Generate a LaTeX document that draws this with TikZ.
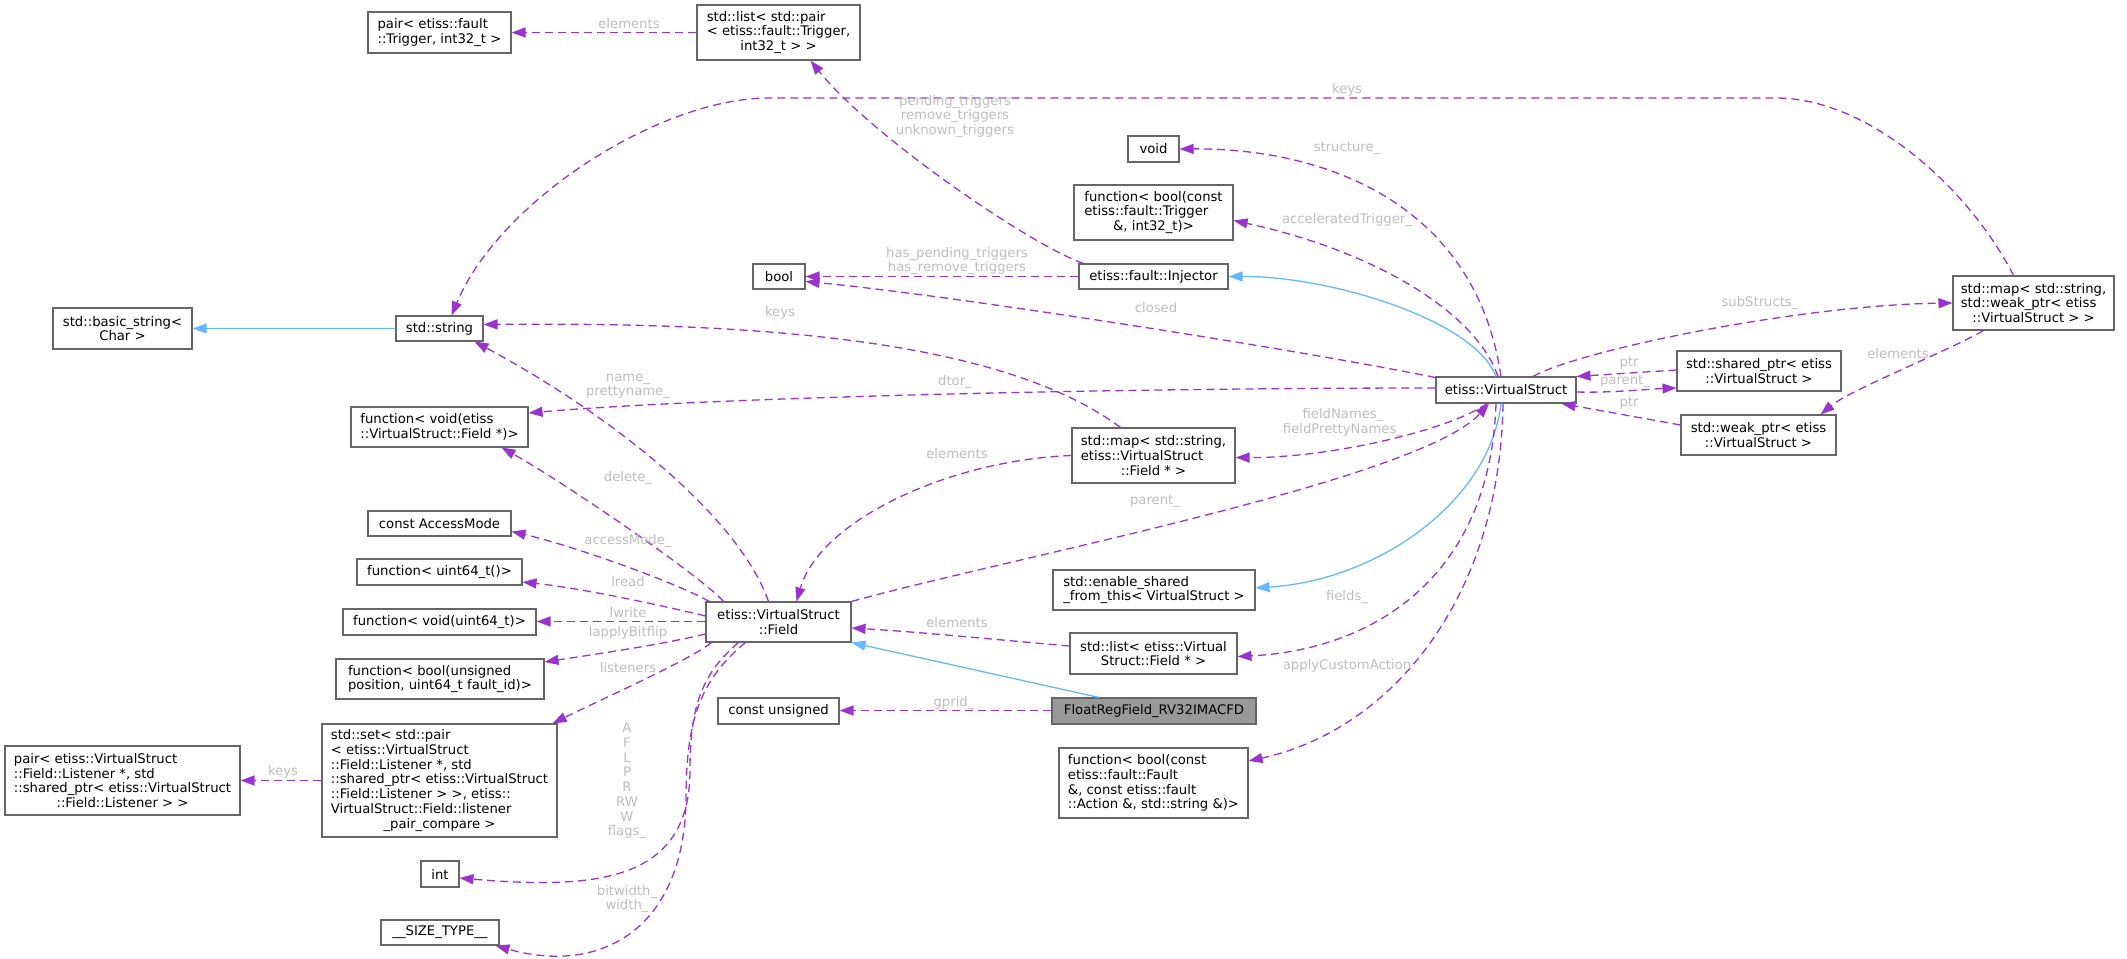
\documentclass[tikz,border=0pt]{standalone}
\usepackage{fontspec}
\setmainfont{DejaVu Sans}
\usepackage{tikz}
\usetikzlibrary{arrows.meta}
\definecolor{usecol}{HTML}{9A32CD}
\definecolor{inhcol}{HTML}{63B8FF}
\definecolor{boxgray}{HTML}{666666}
\definecolor{maingray}{HTML}{999999}
\definecolor{lblgray}{HTML}{BDBDBD}
\newcommand{\ctr}{\null\hfil}

\begin{document}
\begin{tikzpicture}[x=1pt,y=-1pt,
  cls/.style={draw=boxgray, fill=white, line width=1.1pt, inner sep=2pt, align=left, font=\fontsize{13.2pt}{14.7pt}\selectfont},
  lbl/.style={text=lblgray, inner sep=0pt, align=center, font=\fontsize{13.2pt}{14.7pt}\selectfont},
  usedge/.style={usecol, line width=1.3pt, dash pattern=on 8pt off 5pt, -{Triangle[length=14pt,width=10pt]}},
  inhedge/.style={inhcol, line width=1.3pt, -{Triangle[length=14pt,width=10pt]}}]
\useasboundingbox (0,0) rectangle (2127,958);
\node[cls, minimum width=143pt, minimum height=41pt] (pairTrig) at (439.5,32.5) {pair< etiss::fault\\::Trigger, int32\_t >};
\node[cls, minimum width=163pt, minimum height=55pt] (listTrig) at (778.5,32.5) {std::list< std::pair\\< etiss::fault::Trigger,\\\ctr int32\_t > >};
\node[cls, minimum width=139pt, minimum height=41pt] (basicStr) at (122.5,328.5) {std::basic\_string<\\\ctr Char >};
\node[cls, minimum width=87pt, minimum height=25pt] (stdString) at (439.5,328.5) {std::string};
\node[cls, minimum width=51pt, minimum height=26pt] (voidT) at (1153.5,149) {void};
\node[cls, minimum width=159pt, minimum height=55pt] (funcTrig) at (1153.5,212.5) {function< bool(const\\etiss::fault::Trigger\\\ctr \&, int32\_t)>};
\node[cls, minimum width=52pt, minimum height=25pt] (boolT) at (779,276.5) {bool};
\node[cls, minimum width=149pt, minimum height=25pt] (injector) at (1153.5,276.5) {etiss::fault::Injector};
\node[cls, minimum width=161pt, minimum height=54pt] (mapWeak) at (2033.5,303) {std::map< std::string,\\std::weak\_ptr< etiss\\\ctr ::VirtualStruct > >};
\node[cls, minimum width=140pt, minimum height=26pt] (vstruct) at (1506,390) {etiss::VirtualStruct};
\node[cls, minimum width=164pt, minimum height=40pt] (sharedPtr) at (1759,371) {std::shared\_ptr< etiss\\\ctr ::VirtualStruct >};
\node[cls, minimum width=155pt, minimum height=40pt] (weakPtr) at (1758.5,435) {std::weak\_ptr< etiss\\\ctr ::VirtualStruct >};
\node[cls, minimum width=177pt, minimum height=40pt] (funcDel) at (439.5,427) {function< void(etiss\\::VirtualStruct::Field *)>};
\node[cls, minimum width=143pt, minimum height=25pt] (accMode) at (439.5,523.5) {const AccessMode};
\node[cls, minimum width=165pt, minimum height=26pt] (funcRead) at (439.5,572) {function< uint64\_t()>};
\node[cls, minimum width=193pt, minimum height=26pt] (funcWrite) at (439.5,622) {function< void(uint64\_t)>};
\node[cls, minimum width=208pt, minimum height=40pt] (funcFlip) at (440,679) {function< bool(unsigned\\\ctr position, uint64\_t fault\_id)>};
\node[cls, minimum width=235pt, minimum height=113pt] (setL) at (439.5,780.5) {std::set< std::pair\\< etiss::VirtualStruct\\::Field::Listener *, std\\::shared\_ptr< etiss::VirtualStruct\\::Field::Listener > >, etiss::\\VirtualStruct::Field::listener\\\ctr \_pair\_compare >};
\node[cls, minimum width=235pt, minimum height=69pt] (pairL) at (122.5,780.5) {pair< etiss::VirtualStruct\\::Field::Listener *, std\\::shared\_ptr< etiss::VirtualStruct\\\ctr ::Field::Listener > >};
\node[cls, minimum width=38pt, minimum height=26pt] (intT) at (440,874) {int};
\node[cls, minimum width=118pt, minimum height=25pt] (sizeT) at (440,932.5) {\_\_SIZE\_TYPE\_\_};
\node[cls, minimum width=163pt, minimum height=55pt] (mapField) at (1153.5,455.5) {std::map< std::string,\\etiss::VirtualStruct\\\ctr ::Field * >};
\node[cls, minimum width=145pt, minimum height=40pt] (field) at (778.5,622) {etiss::VirtualStruct\\\ctr ::Field};
\node[cls, minimum width=202pt, minimum height=40pt] (enableSh) at (1154,590) {std::enable\_shared\\\ctr \_from\_this< VirtualStruct >};
\node[cls, minimum width=167pt, minimum height=41pt] (listField) at (1153.5,653.5) {std::list< etiss::Virtual\\\ctr Struct::Field * >};
\node[cls, minimum width=121pt, minimum height=26pt] (constU) at (778.5,711) {const unsigned};
\node[cls, fill=maingray, minimum width=204pt, minimum height=26pt] (floatReg) at (1154,711) {FloatRegField\_RV32IMACFD};
\node[cls, minimum width=189pt, minimum height=70pt] (funcAct) at (1153.5,783) {function< bool(const\\etiss::fault::Fault\\\&, const etiss::fault\\\ctr ::Action \&, std::string \&)>};
\draw[usedge] (listTrig.west) -- (pairTrig.east);
\draw[usedge] ([xshift=-70pt]injector.north) .. controls (1030,245) and (870,135) .. ([xshift=32pt]listTrig.south);
\draw[usedge] (injector.west) -- (boolT.east);
\draw[usedge] (vstruct.170) .. controls (1300,350) and (950,295) .. ([yshift=-5pt]boolT.east);
\draw[inhedge] ([xshift=-10pt]vstruct.north) .. controls (1475,320) and (1330,276) .. (injector.east);
\draw[usedge] ([xshift=-5pt]vstruct.north) .. controls (1475,200) and (1320,148) .. (voidT.east);
\draw[usedge] ([xshift=-8pt]vstruct.north) .. controls (1475,310) and (1370,250) .. ([yshift=-8pt]funcTrig.east);
\draw[usedge] ([xshift=27pt]vstruct.north) .. controls (1580,350) and (1800,305) .. (mapWeak.west);
\draw[usedge] ([xshift=-20pt]mapWeak.north) .. controls (1970,190) and (1870,98) .. (1776,98) -- (769,98) .. controls (660,98) and (500,200) .. ([xshift=12pt]stdString.north);
\draw[usedge] ([xshift=-50pt]mapWeak.south) .. controls (1950,350) and (1850,390) .. ([xshift=62pt]weakPtr.north);
\draw[usedge] ([yshift=-2pt]vstruct.east) .. controls (1610,393) and (1650,389) .. ([yshift=-17pt]sharedPtr.west);
\draw[usedge] ([yshift=1pt]sharedPtr.west) -- (vstruct.north east);
\draw[usedge] ([yshift=10pt]weakPtr.west) -- ([xshift=-15pt]vstruct.south east);
\draw[usedge] ([xshift=-33pt]mapField.north) .. controls (1000,338) and (750,322) .. ([yshift=4pt]stdString.east);
\draw[usedge] ([yshift=2pt]vstruct.west) .. controls (1100,388) and (700,398) .. ([yshift=14pt]funcDel.east);
\draw[usedge] ([xshift=-55pt]field.north) .. controls (700,575) and (560,480) .. ([xshift=62pt]funcDel.south);
\draw[usedge] ([xshift=-10pt]field.north) .. controls (740,520) and (620,420) .. ([xshift=35pt]stdString.south);
\draw[usedge] ([xshift=4pt]field.north west) .. controls (670,580) and (570,545) .. ([yshift=-8pt]accMode.east);
\draw[usedge] ([yshift=6pt]field.west) .. controls (660,605) and (580,588) .. ([yshift=-10pt]funcRead.east);
\draw[usedge] ([yshift=0.5pt]field.west) -- ([yshift=0.5pt]funcWrite.east);
\draw[usedge] ([yshift=-12pt]field.west) .. controls (660,645) and (590,655) .. ([yshift=17pt]funcFlip.east);
\draw[usedge] ([xshift=6pt]field.south west) .. controls (690,660) and (600,700) .. ([xshift=-5pt]setL.north east);
\draw[usedge] (setL.west) -- (pairL.east);
\draw[usedge] ([xshift=-40pt]field.south) .. controls (700,675) and (690,710) .. (690,770) .. controls (690,880) and (600,890) .. ([yshift=-4pt]intT.east);
\draw[usedge] ([xshift=-33pt]field.south) .. controls (700,680) and (686,720) .. (686,800) .. controls (684,930) and (600,975) .. ([xshift=-4pt]sizeT.south east);
\draw[usedge] (mapField.west) .. controls (950,460) and (820,520) .. ([xshift=18pt]field.north);
\draw[usedge] ([xshift=-19pt]vstruct.south) .. controls (1450,430) and (1330,458) .. ([yshift=-2pt]mapField.east);
\draw[usedge] (field.north east) .. controls (1000,560) and (1420,480) .. ([xshift=-17pt]vstruct.south);
\draw[inhedge] ([xshift=-5pt]vstruct.south) .. controls (1490,500) and (1380,580) .. ([yshift=2pt]enableSh.east);
\draw[usedge] ([xshift=-10pt]vstruct.south) .. controls (1490,580) and (1370,650) .. ([yshift=-3pt]listField.east);
\draw[usedge] ([yshift=7.5pt]listField.west) .. controls (1000,640) and (920,632) .. ([yshift=-6pt]field.east);
\draw[inhedge] ([xshift=-55pt]floatReg.north) -- (field.south east);
\draw[usedge] ([yshift=0.5pt]floatReg.west) -- ([yshift=0.5pt]constU.east);
\draw[usedge] ([xshift=-3pt]vstruct.south) .. controls (1500,600) and (1390,730) .. ([yshift=22pt]funcAct.east);
\draw[inhedge] (stdString.west) -- (basicStr.east);
\node[lbl] (lElem1) at (629,24) {elements};
\node[lbl] (lPend) at (955,116.5) {pending\_triggers\\remove\_triggers\\unknown\_triggers};
\node[lbl] (lHas) at (957,261) {has\_pending\_triggers\\has\_remove\_triggers};
\node[lbl] (lClosed) at (1156,308) {closed};
\node[lbl] (lStruct) at (1347,148) {structure\_};
\node[lbl] (lAccel) at (1347,220) {acceleratedTrigger\_};
\node[lbl] (lSub) at (1760,303) {subStructs\_};
\node[lbl] (lKeys1) at (1347,90) {keys};
\node[lbl] (lElem2) at (1898,354) {elements};
\node[lbl] (lParent1) at (1625,381) {parent\_};
\node[lbl] (lPtr1) at (1629,363) {ptr};
\node[lbl] (lPtr2) at (1629,403) {ptr};
\node[lbl] (lKeys2) at (780,313) {keys};
\node[lbl] (lDtor) at (955,382) {dtor\_};
\node[lbl] (lDelete) at (628,478) {delete\_};
\node[lbl] (lName) at (628,386.5) {name\_\\prettyname\_};
\node[lbl] (lAccess) at (628,541) {accessMode\_};
\node[lbl] (lRead) at (628,582) {lread};
\node[lbl] (lWrite) at (628,613) {lwrite};
\node[lbl] (lFlip) at (628,633) {lapplyBitflip};
\node[lbl] (lListen) at (628,668) {listeners};
\node[lbl] (lKeys3) at (283,772) {keys};
\node[lbl] (lFlags) at (627,781) {A\\F\\L\\P\\R\\RW\\W\\flags\_};
\node[lbl] (lWidth) at (627,899) {bitwidth\_\\width\_};
\node[lbl] (lElem3) at (957,454) {elements};
\node[lbl] (lFieldN) at (1343,422.5) {fieldNames\_\\fieldPrettyNames\_};
\node[lbl] (lParent2) at (1155,501) {parent\_};
\node[lbl] (lFields) at (1347,597) {fields\_};
\node[lbl] (lElem4) at (957,623) {elements};
\node[lbl] (lGprid) at (954,703) {gprid\_};
\node[lbl] (lApply) at (1347,666) {applyCustomAction};
\end{tikzpicture}
\end{document}
